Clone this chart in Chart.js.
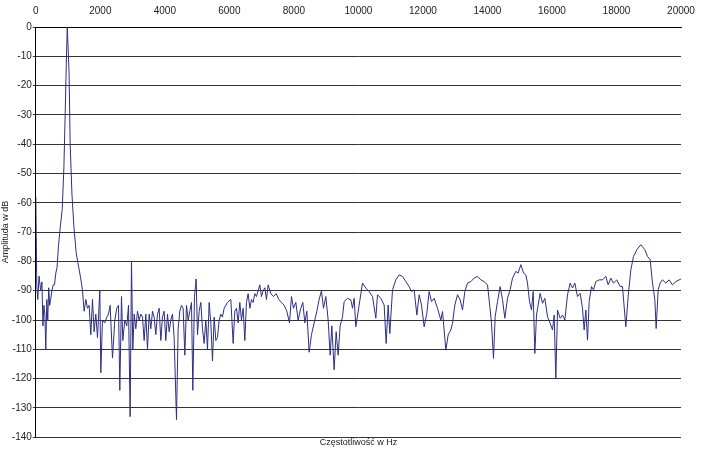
<!DOCTYPE html>
<html>
<head>
<meta charset="utf-8">
<script src="https://cdn.jsdelivr.net/npm/chart.js@4/dist/chart.umd.min.js"></script>
<style>
  html, body { margin: 0; padding: 0; background: #fff; }
  #wrap { width: 705px; height: 451px; }
</style>
</head>
<body>
<div id="wrap"><canvas id="chart"></canvas></div>
<script>
// spectrum: frequency in Hz, amplitude in dB
const freqs = [
  0, 30, 60, 100, 150, 190, 220, 250, 280, 310, 340, 370, 400, 430, 460, 500, 540, 580, 620, 660,
  700, 760, 820, 870, 910, 950, 975, 995, 1030, 1065, 1120, 1180, 1250, 1330,
  1395, 1447, 1498, 1550, 1602, 1653, 1705, 1757, 1808, 1860, 1912, 1984, 2015, 2067, 2139, 2201,
  2253, 2304, 2377, 2449, 2511, 2563, 2604, 2656, 2697, 2759, 2821, 2873, 2924, 2966, 3007, 3048,
  3100, 3152, 3203, 3255, 3307, 3358, 3410, 3462, 3513, 3565, 3617, 3668, 3720, 3772, 3823, 3875,
  3927, 3978, 4030, 4082, 4133, 4185, 4237, 4288, 4361, 4412, 4464, 4516, 4567, 4619, 4671, 4722,
  4774, 4826, 4867, 4919, 4970, 5012, 5063, 5115, 5167, 5218, 5270, 5322, 5373, 5425, 5477, 5528,
  5580, 5631, 5683, 5735, 5786, 5838, 5941, 6045, 6117, 6169, 6221, 6272, 6324, 6375, 6427, 6479,
  6530, 6582, 6634, 6685, 6737, 6789, 6840, 6892, 6944, 6995, 7047, 7099, 7150, 7202, 7285, 7367,
  7450, 7533, 7615, 7698, 7781, 7864, 7925, 7987, 8060, 8132, 8215, 8277, 8339, 8401, 8473, 8545,
  8628, 8711, 8783, 8855, 8917, 8990, 9062, 9124, 9176, 9248, 9310, 9372, 9434,
  9507, 9558, 9662, 9765, 9817, 9868, 9920, 10023, 10127, 10230, 10333, 10437, 10540, 10592, 10695, 10798,
  10860, 10922, 10974, 11057, 11160, 11263, 11367, 11470, 11573, 11646, 11728, 11811, 11883, 11956, 12038, 12121,
  12193, 12266, 12348, 12452, 12555, 12607, 12658, 12710, 12782, 12865, 12917, 12989, 13072, 13154, 13227, 13299,
  13382, 13485, 13588, 13692, 13795, 13898, 14002, 14074, 14126, 14188, 14239, 14312, 14394, 14467, 14539, 14622,
  14704, 14777, 14880, 14952, 15035, 15118, 15190, 15242, 15304, 15366, 15417, 15469, 15521, 15572, 15634, 15707,
  15779, 15862, 15944, 16017, 16068, 16120, 16172, 16254, 16327, 16399, 16482, 16564, 16637, 16709, 16792, 16874,
  16947, 16998, 17050, 17102, 17153, 17226, 17288, 17360, 17463, 17567, 17670, 17742, 17825, 17907, 18011, 18114,
  18186, 18290, 18362, 18445, 18528, 18631, 18755, 18879, 18962, 19044, 19117, 19189, 19230, 19292, 19354, 19427,
  19530, 19633, 19736, 19840, 19943, 20000
];
const amps = [
  -58, -88, -93, -85, -90, -87, -102, -95, -98, -110, -93, -100, -89, -95, -93, -90, -88, -88, -84, -82,
  -75, -68, -62, -48, -30, -10, 0, 0, -15, -40, -57, -68, -77, -82,
  -86, -90, -97, -93, -96, -95, -105, -93, -104, -98, -106, -90, -118, -100, -101, -99,
  -98, -95, -113, -100, -96, -95, -124, -92, -107, -100, -102, -95, -133, -80, -110, -98,
  -103, -97, -100, -98, -99, -107, -98, -110, -98, -103, -97, -99, -105, -98, -96, -107,
  -99, -97, -107, -98, -104, -100, -98, -106, -134, -103, -97, -95, -96, -112, -95, -100,
  -97, -94, -124, -92, -86, -105, -97, -94, -103, -108, -100, -110, -94, -101, -114, -99,
  -107, -106, -100, -98, -99, -96, -94, -93, -108, -97, -96, -101, -94, -100, -96, -107,
  -94, -91, -96, -93, -94, -91, -92, -90, -88, -92, -90, -89, -93, -88, -91, -92,
  -91, -93, -94, -95, -97, -101, -92, -96, -94, -100, -96, -94, -101, -97, -111, -105,
  -101, -97, -93, -90, -96, -92, -100, -112, -102, -117, -104, -112, -102,
  -98.9, -93.7, -92.6, -93.1, -96, -92.6, -102.3, -94.9, -87.4, -89.1, -90.3, -92, -99.4, -91.4, -92.6, -94.9,
  -108, -94.9, -104.6, -89.7, -86.3, -84.6, -85.1, -86.9, -88.6, -90.3, -89.7, -98.3, -91.4, -94.9, -102.3, -97.7,
  -90.3, -93.7, -92.6, -96, -100, -97.1, -103.4, -110.3, -105.1, -103.4, -101.1, -94.9, -91.4, -93.1, -96.6, -90.3,
  -87.4, -86.9, -85.7, -85.1, -86.3, -86.9, -88, -95.4, -101.1, -113.1, -98.9, -93.7, -88.6, -93.1, -99.4, -92.6,
  -89.7, -85.7, -83.4, -84, -81.1, -84, -84.6, -87.4, -93.7, -96.6, -90.3, -111.4, -98.3, -94.9, -90.9, -94.3,
  -92.6, -98.9, -101.1, -103.4, -98.3, -120, -96.6, -99.4, -98.3, -100, -91.4, -87.4, -89.1, -87.4, -92, -90.9,
  -96, -103.4, -96.6, -106.9, -93.7, -88.6, -89.7, -86.9, -86.3, -86.3, -85.1, -88, -85.7, -87.4, -86.3, -88.6,
  -88.6, -102.3, -92, -82.9, -78.3, -76, -74.3, -76, -78.3, -79.4, -87.4, -93.1, -102.9, -89.7, -87.4, -86.3,
  -87.4, -86.3, -88, -86.9, -86.3, -86
];
const xTicks = [0, 2000, 4000, 6000, 8000, 10000, 12000, 14000, 16000, 18000, 20000];
const yTicks = [0, -10, -20, -30, -40, -50, -60, -70, -80, -90, -100, -110, -120, -130, -140];

Chart.defaults.font.family = '"Liberation Sans", Arial, sans-serif';
Chart.defaults.font.size = 10;
Chart.defaults.color = '#222';

new Chart(document.getElementById('chart'), {
  type: 'scatter',
  data: {
    datasets: [{
      data: freqs.map((f, i) => ({ x: f, y: amps[i] })),
      showLine: true,
      borderColor: '#2e2f82',
      borderWidth: 1,
      pointRadius: 0,
      tension: 0
    }]
  },
  options: {
    responsive: true,
    maintainAspectRatio: false,
    animation: false,
    layout: { padding: { left: 0, right: 24, top: 3, bottom: 0 } },
    plugins: { legend: { display: false }, tooltip: { enabled: false } },
    scales: {
      x: {
        type: 'linear',
        position: 'top',
        min: 0, max: 20000,
        afterBuildTicks: axis => { axis.ticks = xTicks.map(v => ({ value: v })); },
        grid: { display: false },
        border: { color: '#000' },
        ticks: { padding: 2, maxRotation: 0, callback: v => String(v) }
      },
      xTitle: {
        type: 'linear',
        position: 'bottom',
        display: true,
        min: 0, max: 1,
        grid: { display: false, drawTicks: false },
        border: { display: false },
        ticks: { display: false, padding: 0 },
        title: { display: true, text: 'Częstotliwość w Hz', font: { size: 9 }, padding: { top: 0, bottom: 3 } }
      },
      y: {
        min: -140, max: 0,
        afterBuildTicks: axis => { axis.ticks = yTicks.map(v => ({ value: v })); },
        grid: { color: '#333', lineWidth: 1, drawTicks: true, tickLength: 3 },
        border: { color: '#000' },
        ticks: { padding: 1, callback: v => String(v) },
        title: { display: true, text: 'Amplituda w dB', font: { size: 9 }, padding: 0 }
      }
    }
  }
});
</script>
</body>
</html>
